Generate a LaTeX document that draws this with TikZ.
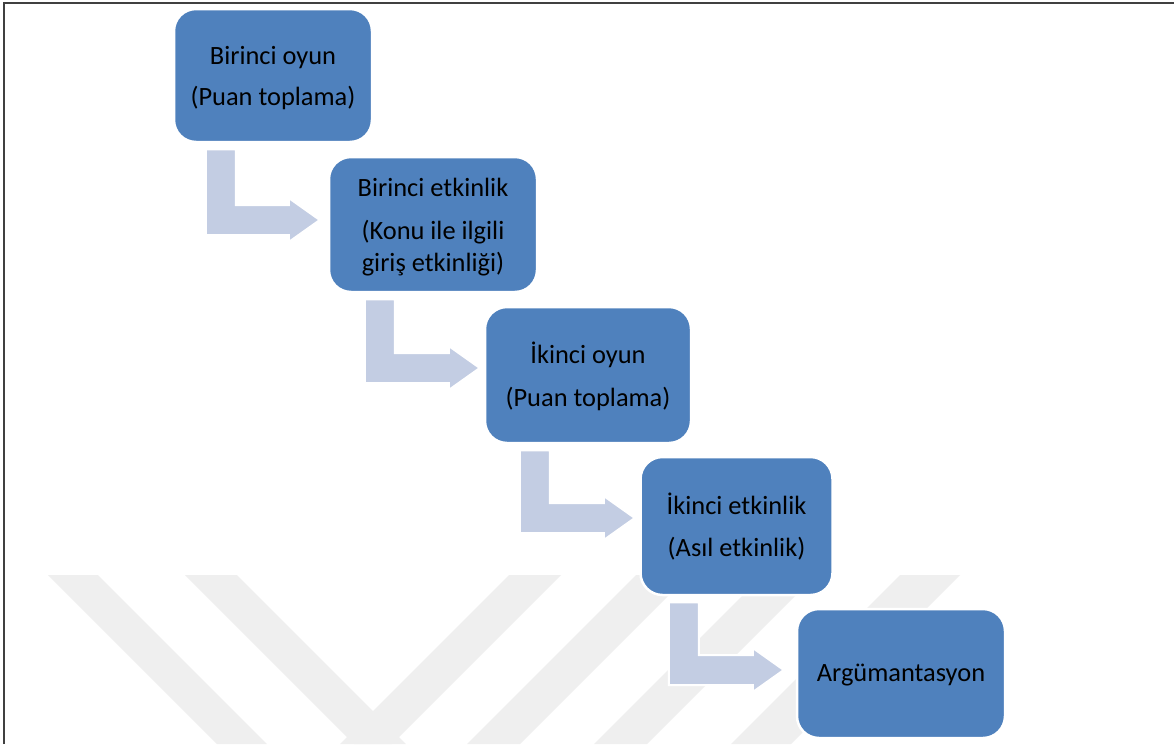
\documentclass[tikz,border=0pt]{standalone}
\usepackage{fontspec}
\setmainfont{Carlito}
\usetikzlibrary{calc}
\definecolor{boxblue}{RGB}{79,129,189}
\definecolor{arrowfill}{RGB}{195,205,227}
\definecolor{markgray}{RGB}{239,239,239}
\definecolor{framecol}{RGB}{64,64,64}
% fixed height of the first line and depth of the last line of a box text
\newcommand{\topstrut}{\rule{0pt}{26pt}}
\newcommand{\botstrut}{\rule[-7pt]{0pt}{7pt}}
\tikzset{
  stepbox/.style={rectangle, rounded corners=22pt, fill=boxblue, draw=white,
    line width=2.5pt, inner sep=0pt, align=center, text=black,
    font=\fontsize{26.4pt}{32pt}\selectfont},
  flowarrow/.style={fill=arrowfill, draw=white, line width=2pt},
  band/.style={fill=markgray, draw=none}
}
% bent block arrow leaving the bottom of #1 and pointing at the left side of #2
% #3: stem offset from the left edge of #1, #4: gap before #2, #5: vertical shift of the tip
\newcommand{\bentarrow}[5]{%
  \coordinate (#1-s) at ($(#1.south west)+(#3,6)$);
  \coordinate (#1-t) at ($(#2.west)+(-#4,#5)$);
  \draw[flowarrow] (#1-s) -- ++(30,0) |- ($(#1-t)+(-31,-15)$) -- ++(0,-7)
    -- (#1-t) -- ($(#1-t)+(-31,22)$) -- ++(0,-7) -| (#1-s) -- cycle;
}
\begin{document}
\begin{tikzpicture}[x=1pt,y=-1pt]
\useasboundingbox (0,0) rectangle (1174,744);
\fill[white] (0,0) rectangle (1174,744);

% faint diagonal bands in the lower part
\fill[band] (48,575) -- (98,575) -- (267,744) -- (217,744) -- cycle;
\fill[band] (185,575) -- (237,575) -- (406,744) -- (354,744) -- cycle;
\fill[band] (509,575) -- (561,575) -- (392,744) -- (340,744) -- cycle;
\fill[band] (636,575) -- (689,575) -- (520,744) -- (467,744) -- cycle;
\fill[band] (763,575) -- (816,575) -- (647,744) -- (594,744) -- cycle;
\fill[band] (900,575) -- (960,575) -- (791,744) -- (731,744) -- cycle;

% frame
\draw[framecol, line width=2pt] (3.5,744) -- (3.5,2.5) -- (1174,2.5);

% steps
\node[stepbox, minimum width=198pt, minimum height=133pt] (b1) at (273,75.5)
  {\topstrut Birinci oyun\\[9pt](Puan toplama)\botstrut};
\node[stepbox, minimum width=208pt, minimum height=135pt] (b2) at (433,224.5)
  {\topstrut Birinci etkinlik\\[11pt](Konu ile ilgili\\giriş etkinliği)\botstrut};
\node[stepbox, minimum width=206pt, minimum height=136pt] (b3) at (588,375)
  {\topstrut İkinci oyun\\[11pt](Puan toplama)\botstrut};
\node[stepbox, minimum width=192pt, minimum height=138pt] (b4) at (736.5,526)
  {\topstrut İkinci etkinlik\\[10pt](Asıl etkinlik)\botstrut};
\node[stepbox, minimum width=208pt, minimum height=129pt] (b5) at (901,673.5)
  {\rule[-4pt]{0pt}{24pt}Argümantasyon};

% connectors
\bentarrow{b1}{b2}{33}{8}{-4.5}
\bentarrow{b2}{b3}{37}{4}{-7}
\bentarrow{b3}{b4}{36}{4.5}{-8}
\bentarrow{b4}{b5}{29.5}{12}{-3.5}
\end{tikzpicture}
\end{document}
